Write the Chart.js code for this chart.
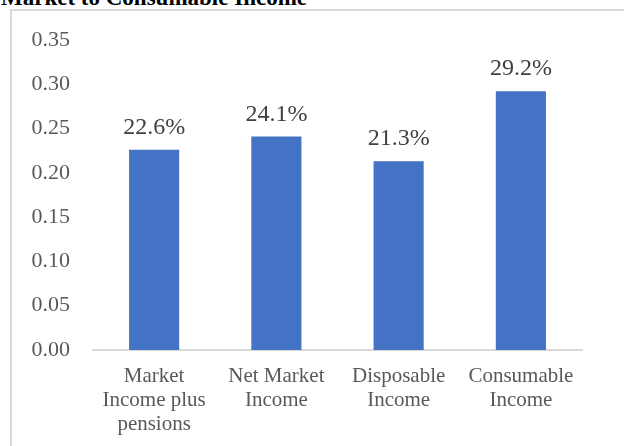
<!DOCTYPE html>
<html>
<head>
<meta charset="utf-8">
<script src="https://cdn.jsdelivr.net/npm/chart.js@4/dist/chart.umd.min.js"></script>
<style>
    html, body { margin: 0; padding: 0; background: #fff; overflow: hidden; }
    #title {
        position: absolute; left: 1px; top: -14px;
        font: bold 23px/23px 'Liberation Serif', 'Times New Roman', serif;
        color: #000; white-space: nowrap;
    }
    #frame {
        position: absolute; left: 10px; top: 9px; width: 700px; height: 500px;
        border-top: 2px solid #d9d9d9; border-left: 2px solid #d9d9d9;
    }
    #wrap { position: absolute; left: 0; top: 0; width: 624px; height: 446px; }
</style>
</head>
<body>
<div id="title">Market to Consumable Income</div>
<div id="frame"></div>
<div id="wrap"><canvas id="giniChart"></canvas></div>
<script>
// chart data
const categories = [
    ['Market', 'Income plus', 'pensions'],
    ['Net Market', 'Income'],
    ['Disposable', 'Income'],
    ['Consumable', 'Income']
];
const giniValues = [0.226, 0.241, 0.213, 0.292];
const valueLabels = ['22.6%', '24.1%', '21.3%', '29.2%'];
const yTicks = [0, 0.05, 0.10, 0.15, 0.20, 0.25, 0.30, 0.35];

const serif = "'Liberation Serif', 'Times New Roman', serif";

// draws the percentage above each bar
const barLabels = {
    id: 'barLabels',
    afterDatasetsDraw(chart) {
        const ctx = chart.ctx;
        const meta = chart.getDatasetMeta(0);
        ctx.save();
        ctx.font = '24px ' + serif;
        ctx.fillStyle = '#404040';
        ctx.textAlign = 'center';
        ctx.textBaseline = 'alphabetic';
        meta.data.forEach((bar, i) => {
            ctx.fillText(valueLabels[i], bar.x, bar.y - 16);
        });
        ctx.restore();
    }
};

new Chart(document.getElementById('giniChart'), {
    type: 'bar',
    data: {
        labels: categories,
        datasets: [{
            data: giniValues,
            backgroundColor: '#4472c4',
            borderWidth: 0,
            categoryPercentage: 1,
            barPercentage: 0.41
        }]
    },
    options: {
        responsive: true,
        maintainAspectRatio: false,
        animation: false,
        layout: { padding: { left: 29, right: 42, top: 40, bottom: 0 } },
        plugins: {
            legend: { display: false },
            tooltip: { enabled: false }
        },
        scales: {
            y: {
                min: 0,
                max: 0.35,
                afterBuildTicks: function(scale) {
                    scale.ticks = yTicks.map(v => ({ value: v }));
                },
                afterFit: function(scale) { scale.width = 64; },
                grid: { display: false, drawTicks: false },
                border: { display: false },
                ticks: {
                    padding: 23,
                    color: '#595959',
                    font: { family: serif, size: 22 },
                    callback: function(value) { return value.toFixed(2); }
                }
            },
            x: {
                afterFit: function(scale) { scale.height = 96; },
                grid: { display: false, drawTicks: false },
                border: { display: true, color: '#d9d9d9', width: 2 },
                ticks: {
                    padding: 14,
                    maxRotation: 0,
                    autoSkip: false,
                    color: '#595959',
                    font: { family: serif, size: 21, lineHeight: 1.15 }
                }
            }
        }
    },
    plugins: [barLabels]
});
</script>
</body>
</html>
